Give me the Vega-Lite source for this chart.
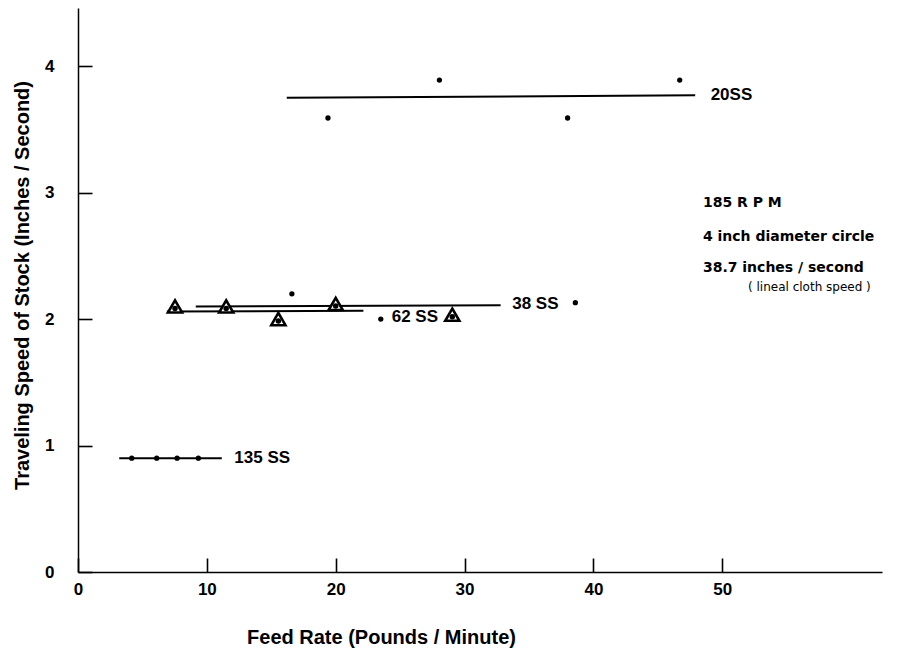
{
  "$schema": "https://vega.github.io/schema/vega-lite/v6.json",
  "width": 804,
  "height": 564,
  "autosize": {"type": "none"},
  "padding": {"left": 78, "top": 8, "right": 40, "bottom": 79},
  "background": "white",
  "config": {"view": {"stroke": null}, "font": "Liberation Sans"},
  "datasets": {
    "lines": [
      {"series": "20SS", "x": 16.2, "x2": 47.9, "y": 3.75, "y2": 3.77},
      {"series": "38SS", "x": 9.14, "x2": 32.8, "y": 2.10, "y2": 2.11},
      {"series": "62SS", "x": 6.9, "x2": 22.15, "y": 2.06, "y2": 2.065},
      {"series": "135SS", "x": 3.2, "x2": 11.16, "y": 0.90, "y2": 0.90}
    ],
    "dots": [
      {"series": "20SS", "x": 19.4, "y": 3.59},
      {"series": "20SS", "x": 28.05, "y": 3.89},
      {"series": "20SS", "x": 38.0, "y": 3.59},
      {"series": "20SS", "x": 46.7, "y": 3.89},
      {"series": "38SS", "x": 16.6, "y": 2.20},
      {"series": "38SS", "x": 38.6, "y": 2.13},
      {"series": "62SS", "x": 23.5, "y": 2.00},
      {"series": "135SS", "x": 4.17, "y": 0.90},
      {"series": "135SS", "x": 6.11, "y": 0.90},
      {"series": "135SS", "x": 7.69, "y": 0.90},
      {"series": "135SS", "x": 9.34, "y": 0.90}
    ],
    "triangles": [
      {"x": 7.53, "y": 2.10},
      {"x": 11.5, "y": 2.10},
      {"x": 15.55, "y": 2.00},
      {"x": 20.0, "y": 2.12},
      {"x": 29.05, "y": 2.035}
    ],
    "labels": [
      {"x": 49.1, "y": 3.77, "text": "20SS"},
      {"x": 33.7, "y": 2.12, "text": "38 SS"},
      {"x": 24.35, "y": 2.02, "text": "62 SS"},
      {"x": 12.13, "y": 0.90, "text": "135 SS"}
    ],
    "notes": [
      {"x": 48.5, "y": 2.89, "text": "185  R P M"},
      {"x": 48.5, "y": 2.615, "text": "4 inch diameter circle"},
      {"x": 48.5, "y": 2.37, "text": "38.7 inches / second"}
    ],
    "subnotes": [
      {"x": 52.0, "y": 2.22, "text": "( lineal  cloth  speed )"}
    ]
  },
  "layer": [
    {
      "data": {"name": "lines"},
      "mark": {"type": "rule", "color": "black", "strokeWidth": 2},
      "encoding": {
        "x": {
          "field": "x", "type": "quantitative",
          "scale": {"domain": [0, 62.4], "nice": false, "zero": false},
          "axis": {
            "values": [0, 10, 20, 30, 40, 50], "format": "d",
            "title": "Feed Rate   (Pounds / Minute)",
            "titleFontSize": 20, "titleFontWeight": "bold", "titleColor": "black",
            "titleX": 303, "titleY": 65, "titleAlign": "center", "titleBaseline": "middle",
            "labelFontSize": 17, "labelFontWeight": "bold", "labelColor": "black",
            "labelPadding": 23, "labelFlush": false,
            "ticks": true, "tickSize": -14, "tickColor": "black", "tickWidth": 1.6, "tickOpacity": 1,
            "domainColor": "black", "domainWidth": 1.5, "grid": false
          }
        },
        "x2": {"field": "x2"},
        "y": {
          "field": "y", "type": "quantitative",
          "scale": {"domain": [0, 4.46], "nice": false, "zero": false},
          "axis": {
            "values": [0, 1, 2, 3, 4], "format": "d",
            "title": "Traveling Speed of Stock   (Inches / Second)",
            "titleFontSize": 20, "titleFontWeight": "bold", "titleColor": "black",
            "titleX": -56, "titleY": 277, "titleAlign": "center", "titleBaseline": "middle", "titleAngle": -90,
            "labelFontSize": 17, "labelFontWeight": "bold", "labelColor": "black",
            "labelPadding": 38, "labelFlush": false,
            "ticks": true, "tickSize": -14, "tickColor": "black", "tickWidth": 1.6, "tickOpacity": 1,
            "domainColor": "black", "domainWidth": 1.5, "grid": false
          }
        },
        "y2": {"field": "y2"}
      }
    },
    {
      "data": {"name": "dots"},
      "mark": {"type": "circle", "color": "black", "opacity": 1, "size": 28},
      "encoding": {
        "x": {"field": "x", "type": "quantitative"},
        "y": {"field": "y", "type": "quantitative"}
      }
    },
    {
      "data": {"name": "triangles"},
      "mark": {"type": "point", "shape": "triangle-up", "filled": true, "fill": "white", "stroke": "black", "strokeWidth": 2.6, "size": 200, "opacity": 1},
      "encoding": {
        "x": {"field": "x", "type": "quantitative"},
        "y": {"field": "y", "type": "quantitative"}
      }
    },
    {
      "data": {"name": "triangles"},
      "mark": {"type": "circle", "color": "black", "opacity": 1, "size": 30, "yOffset": 2},
      "encoding": {
        "x": {"field": "x", "type": "quantitative"},
        "y": {"field": "y", "type": "quantitative"}
      }
    },
    {
      "data": {"name": "labels"},
      "mark": {"type": "text", "align": "left", "baseline": "middle", "fontSize": 17, "fontWeight": "bold", "color": "black", "font": "Liberation Sans"},
      "encoding": {
        "x": {"field": "x", "type": "quantitative"},
        "y": {"field": "y", "type": "quantitative"},
        "text": {"field": "text"}
      }
    },
    {
      "data": {"name": "notes"},
      "mark": {"type": "text", "align": "left", "baseline": "alphabetic", "fontSize": 14, "fontWeight": "bold", "color": "black", "font": "DejaVu Sans"},
      "encoding": {
        "x": {"field": "x", "type": "quantitative"},
        "y": {"field": "y", "type": "quantitative"},
        "text": {"field": "text"}
      }
    },
    {
      "data": {"name": "subnotes"},
      "mark": {"type": "text", "align": "left", "baseline": "alphabetic", "fontSize": 12, "fontWeight": "normal", "color": "black", "font": "DejaVu Sans"},
      "encoding": {
        "x": {"field": "x", "type": "quantitative"},
        "y": {"field": "y", "type": "quantitative"},
        "text": {"field": "text"}
      }
    }
  ]
}
